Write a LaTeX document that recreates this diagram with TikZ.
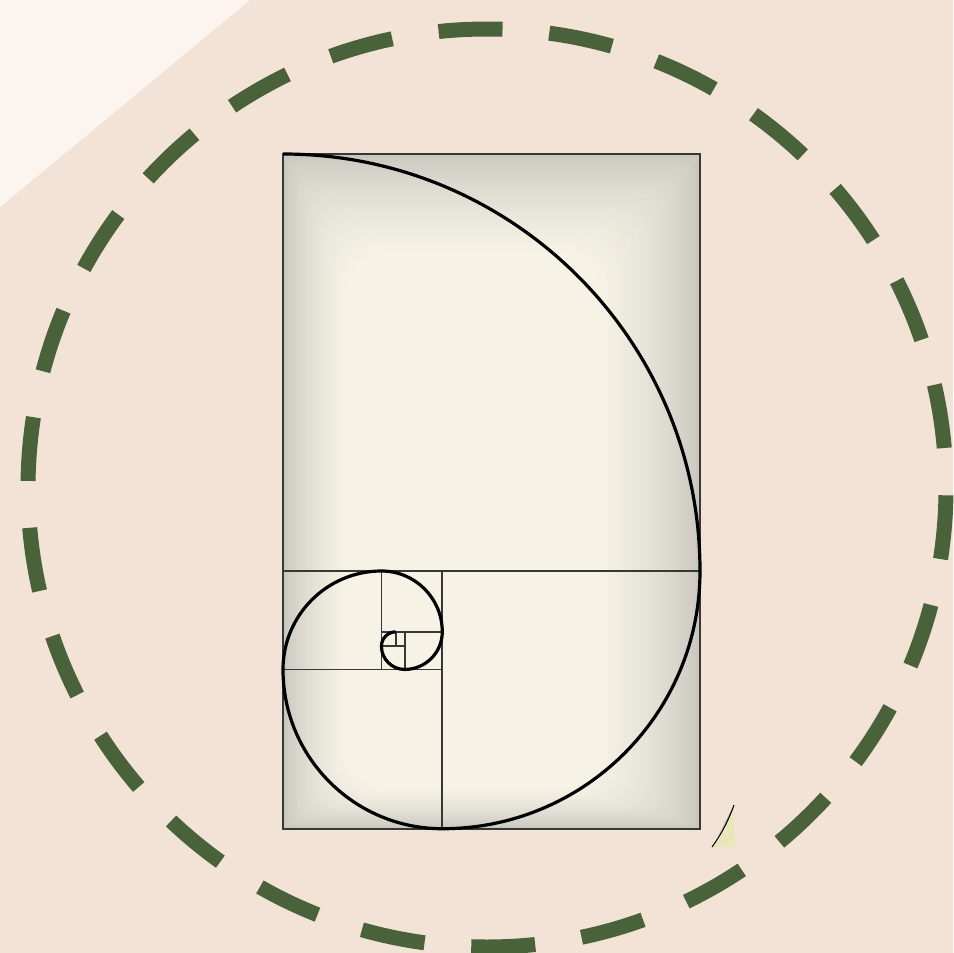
\documentclass[tikz,border=0pt]{standalone}
\usepackage{tikz}
\usepackage{xcolor}
\definecolor{paper}{RGB}{243,227,215}
\definecolor{paperlight}{RGB}{252,244,239}
\definecolor{moss}{RGB}{74,98,57}
\definecolor{cream}{RGB}{246,242,230}
\definecolor{edgegray}{RGB}{200,198,190}
\definecolor{frameline}{RGB}{55,55,53}
\definecolor{sliver}{RGB}{233,230,186}
\definecolor{shade}{RGB}{150,148,140}
\begin{document}
\begin{tikzpicture}[x=1pt, y=-1pt,
  ring/.style={draw=moss, line width=15pt, dash pattern=on 64pt off 46.92pt, dash phase=103.6pt},
  grid/.style={draw=frameline, line width=1.7pt},
  spiral/.style={draw=black, line width=3.2pt},
  frame/.style={draw=frameline, line width=1.6pt}
]
% background
\fill[paper] (0,0) rectangle (953,953);
\fill[paperlight] (0,0) -- (250,0) -- (0,207) -- cycle;
\useasboundingbox (0,0) rectangle (953,953);

% golden rectangle with soft vignette
\foreach \i in {0,...,24} {
  \pgfmathsetmacro\mix{100*(\i/24)^0.7}
  \fill[cream!\mix!edgegray, rounded corners=2*\i] (283+2.5*\i,154+4*\i) rectangle (700-4*\i,828.72-1.6*\i);
}

% squares
\draw[grid] (283,571) -- (700,571);
\draw[grid] (442.28,571) -- (442.28,828.72);
\draw[grid] (283,669.44) -- (442.28,669.44);
\draw[grid] (381.44,571) -- (381.44,669.44);
\draw[grid] (381.44,631.84) -- (442.28,631.84);
\draw[grid] (404.68,631.84) -- (404.68,669.44);
\draw[grid] (381.44,646.2) -- (404.68,646.2);
\draw[grid] (395.8,631.84) -- (395.8,646.2);
\draw[frame] (283,154) rectangle (700,828.72);

% spiral
\draw[spiral] (283,154)
  arc[start angle=-90, end angle=0, radius=417]
  arc[start angle=0, end angle=90, radius=257.72]
  arc[start angle=90, end angle=180, radius=159.28]
  arc[start angle=180, end angle=270, radius=98.44]
  arc[start angle=270, end angle=360, radius=60.84]
  arc[start angle=0, end angle=90, radius=37.60]
  arc[start angle=90, end angle=180, radius=23.24]
  arc[start angle=180, end angle=270, radius=14.36];

% sliver at lower right
\fill[sliver] (734,805) .. controls (728,822) and (720,836) .. (712,847) -- (735,847) -- cycle;
\draw[shade, line width=1pt] (734,805) .. controls (728,822) and (720,836) .. (712,847);

% dashed ring
\draw[ring] (487,488) circle[radius=459];
\end{tikzpicture}
\end{document}
